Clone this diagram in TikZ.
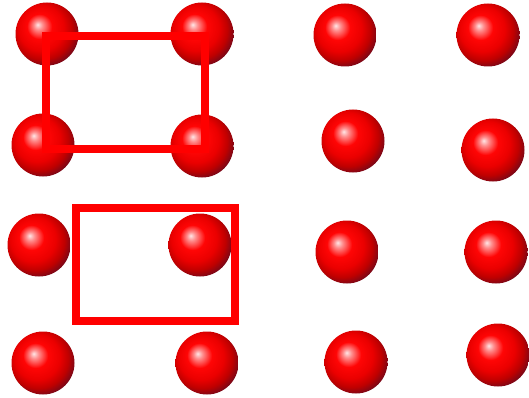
\documentclass[tikz,border=0pt]{standalone}
\definecolor{ballshadow}{RGB}{105,32,95}
\pgfdeclareradialshading{redball}{\pgfqpoint{-7.5bp}{7.5bp}}{%
color(0bp)=(red!10!white);
color(3.5bp)=(red!45!white);
color(10bp)=(red!98!white);
color(18bp)=(red!92!black);
color(24bp)=(red!75!black);
color(29bp)=(red!50!black!75!ballshadow);
color(34bp)=(ballshadow);
color(50bp)=(ballshadow)}
\tikzset{
  sphere/.style={circle, minimum size=63pt, inner sep=0pt, draw=none, shading=redball},
  frame/.style={draw=red, line width=8pt, line join=miter}
}
\begin{document}
\begin{tikzpicture}[x=1pt,y=-1pt]
\useasboundingbox (0,0) rectangle (529,398);
% column 1
\node[sphere] (a1) at (47,34) {};
\node[sphere] (a2) at (43,145) {};
\node[sphere] (a3) at (39,245) {};
\node[sphere] (a4) at (43,363) {};
% column 2
\node[sphere] (b1) at (202,34) {};
\node[sphere] (b2) at (202,146) {};
\node[sphere] (b3) at (200,245) {};
\node[sphere] (b4) at (207,363) {};
% column 3
\node[sphere] (c1) at (345,35) {};
\node[sphere] (c2) at (353,141) {};
\node[sphere] (c3) at (347,252) {};
\node[sphere] (c4) at (356,362) {};
% column 4
\node[sphere] (d1) at (488,35) {};
\node[sphere] (d2) at (493,150) {};
\node[sphere] (d3) at (496,252) {};
\node[sphere] (d4) at (498,355) {};
% rectangles
\coordinate (r1a) at (46,36);
\coordinate (r1b) at (205,149);
\coordinate (r2a) at (76,208);
\coordinate (r2b) at (235,321);
\draw[frame] (r1a) rectangle (r1b);
\draw[frame] (r2a) rectangle (r2b);
\end{tikzpicture}
\end{document}
